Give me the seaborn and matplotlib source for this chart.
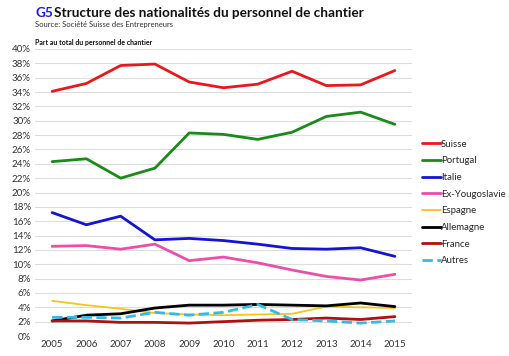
import matplotlib
matplotlib.use("Agg")
import matplotlib.pyplot as plt
import seaborn as sns
import pandas as pd
from matplotlib.ticker import FuncFormatter, MultipleLocator

years = list(range(2005, 2016))
suisse = [34.1, 35.2, 37.7, 37.9, 35.4, 34.6, 35.1, 36.9, 34.9, 35.0, 37.0]
portugal = [24.3, 24.7, 22.0, 23.4, 28.3, 28.1, 27.4, 28.4, 30.6, 31.2, 29.5]
italie = [17.2, 15.5, 16.7, 13.4, 13.6, 13.3, 12.8, 12.2, 12.1, 12.3, 11.1]
exyougo = [12.5, 12.6, 12.1, 12.8, 10.5, 11.0, 10.2, 9.2, 8.3, 7.8, 8.6]
espagne = [4.9, 4.3, 3.8, 3.2, 3.0, 2.9, 3.0, 3.1, 4.1, 4.0, 3.9]
allemagne = [2.1, 2.9, 3.1, 3.9, 4.3, 4.3, 4.4, 4.3, 4.2, 4.6, 4.1]
france = [2.1, 2.1, 1.9, 1.9, 1.8, 2.0, 2.2, 2.3, 2.5, 2.3, 2.7]
autres = [2.6, 2.6, 2.5, 3.3, 2.9, 3.3, 4.4, 2.3, 2.1, 1.8, 2.1]

series = ["Suisse", "Portugal", "Italie", "Ex-Yougoslavie", "Espagne", "Allemagne", "France", "Autres"]
values = [suisse, portugal, italie, exyougo, espagne, allemagne, france, autres]
colors = ["#e8191c", "#1a8a1a", "#1414d2", "#ec4fa8", "#f5c518", "#000000", "#b01010", "#33bbe8"]
widths = [2.0, 2.0, 2.0, 2.0, 1.3, 2.0, 2.0, 2.0]

rows = []
for name, vals in zip(series, values):
    for y, v in zip(years, vals):
        rows.append({"Année": y, "Valeur": v, "Série": name})
df = pd.DataFrame(rows)

sns.set_theme(style="white")
plt.rcParams['font.family'] = ['Lato', 'DejaVu Sans']

fig = plt.figure(figsize=(5.10, 3.56), dpi=100)
ax = fig.add_axes([35/510, (356-336)/356, (412-35)/510, (336-49)/356])

for name, c, w in zip(series, colors, widths):
    sub = df[df["Série"] == name]
    sns.lineplot(data=sub, x="Année", y="Valeur", ax=ax, color=c, linewidth=w,
                 linestyle="--" if name == "Autres" else "-", label=name, legend=False)

ax.set_xlim(2004.5, 2015.5)
ax.set_ylim(0, 40)
ax.yaxis.set_major_locator(MultipleLocator(2))
ax.yaxis.set_major_formatter(FuncFormatter(lambda v, p: f"{int(v)}%"))
ax.set_xticks(years)
ax.set_xticklabels([str(y) for y in years])
ax.grid(axis="y", color="#dddddd", linewidth=0.8)
ax.set_axisbelow(True)
for s in ax.spines.values():
    s.set_visible(False)
ax.tick_params(axis="both", labelsize=7, colors="#333333", length=0, pad=3)
ax.set_xlabel("")
ax.set_ylabel("")

handles, labels = ax.get_legend_handles_labels()
leg = fig.legend(handles, labels, loc="upper left", bbox_to_anchor=(413/510, 1 - 131/356),
                 frameon=False, fontsize=6.9, handlelength=2.0, handletextpad=0.0,
                 labelspacing=0.8)

fig.text(35/510, 1 - 13/356, "G5", color="#1a1adc", fontsize=9.8, fontweight="bold", va="center")
fig.text(54/510, 1 - 13/356, "Structure des nationalités du personnel de chantier",
         color="#111111", fontsize=9.8, fontweight="bold", va="center")
fig.text(35/510, 1 - 25/356, "Source: Société Suisse des Entrepreneurs", color="#333333",
         fontsize=5.5, va="center")
fig.text(35/510, 1 - 43/356, "Part au total du personnel de chantier", color="#111111",
         fontsize=5.0, fontweight="bold", va="center")

fig.savefig("out.png", dpi=100)
